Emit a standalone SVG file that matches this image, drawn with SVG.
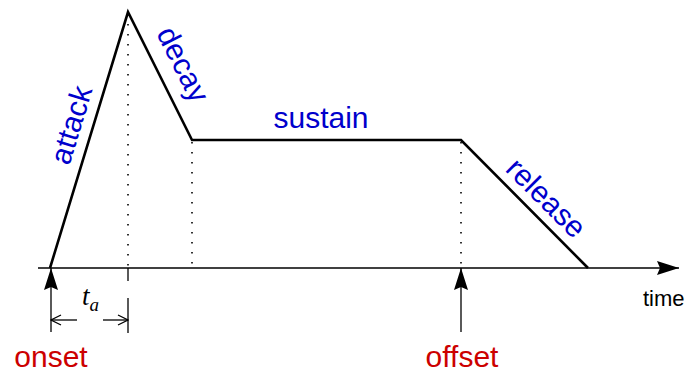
<svg xmlns="http://www.w3.org/2000/svg" width="692" height="374" viewBox="0 0 692 374">
<style>
.env{fill:none;stroke:#000;stroke-width:2.6;stroke-linejoin:miter}
.axis{fill:none;stroke:#000;stroke-width:1.5}
.dot{fill:none;stroke:#000;stroke-width:1.6;stroke-dasharray:1.6 8.4}
.thin{fill:none;stroke:#000;stroke-width:1.3}
.blue{font-family:"Liberation Sans",Arial,sans-serif;font-size:30px;fill:#0000cc}
.red{font-family:"Liberation Sans",Arial,sans-serif;font-size:30px;fill:#cc0000;text-anchor:middle}
.blk{font-family:"Liberation Sans",Arial,sans-serif;font-size:22px;fill:#000}
.math{font-family:"Liberation Serif","DejaVu Serif",serif;font-style:italic;fill:#000;font-size:27px}
.sub{font-size:19px}
</style>
<defs>
<marker id="fill" viewBox="0 0 22 14" refX="22" refY="7" markerWidth="22" markerHeight="14" markerUnits="userSpaceOnUse" orient="auto">
<path d="M22,7 L0,0 L3,7 L0,14 Z" fill="#000"/>
</marker>
<marker id="open" viewBox="0 0 12 12" refX="11" refY="6" markerWidth="12" markerHeight="12" markerUnits="userSpaceOnUse" orient="auto">
<path d="M1,1 L11,6 L1,11" fill="none" stroke="#000" stroke-width="1.3"/>
</marker>
</defs>
<g id="connectors">
<line class="axis" x1="38" y1="268" x2="679" y2="268" marker-end="url(#fill)"/>
<polyline id="envelope" class="env" points="50,268 128,12 192,140 461,140 588,268"/>
<line class="dot" x1="128" y1="14" x2="128" y2="268"/>
<line class="dot" x1="192" y1="142" x2="192" y2="268"/>
<line class="dot" x1="461" y1="142" x2="461" y2="268"/>
<line class="thin" x1="51" y1="332" x2="51" y2="268" marker-end="url(#fill)"/>
<line class="thin" x1="461" y1="332" x2="461" y2="268" marker-end="url(#fill)"/>
<line class="thin" x1="128" y1="268" x2="128" y2="281"/>
<line class="thin" x1="128" y1="298" x2="128" y2="333"/>
<line class="thin" x1="77" y1="320" x2="51" y2="320" marker-end="url(#open)"/>
<line class="thin" x1="103" y1="320" x2="128" y2="320" marker-end="url(#open)"/>
</g>
<g id="attack"><text class="blue" text-anchor="middle" transform="translate(81,128) rotate(-73)">attack</text></g>
<g id="decay"><text class="blue" text-anchor="middle" transform="translate(174,69) rotate(63.4)">decay</text></g>
<g id="sustain"><text class="blue" text-anchor="middle" x="321" y="128">sustain</text></g>
<g id="release"><text class="blue" text-anchor="middle" transform="translate(539,205) rotate(45)">release</text></g>
<g id="time"><text class="blk" x="643" y="306">time</text></g>
<g id="ta"><text class="math" x="82" y="305">t<tspan class="sub" dy="6">a</tspan></text></g>
<g id="onset"><text class="red" x="51" y="367">onset</text></g>
<g id="offset"><text class="red" x="462" y="367">offset</text></g>
</svg>
